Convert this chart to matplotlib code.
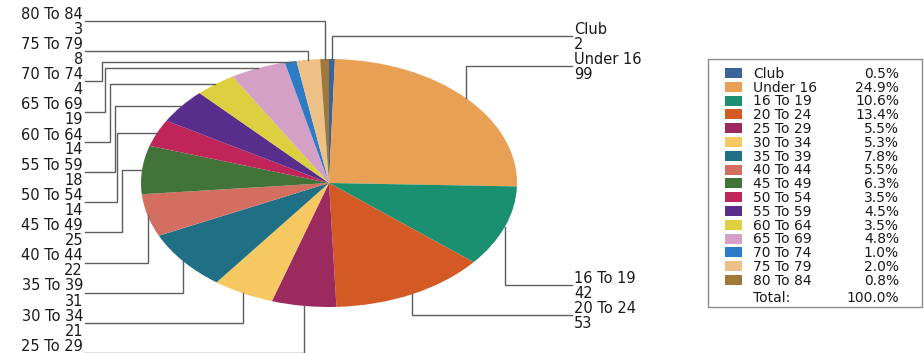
import matplotlib
matplotlib.use('Agg')
import matplotlib.pyplot as plt
import numpy as np
from matplotlib.patches import Rectangle

categories = ['Club', 'Under 16', '16 To 19', '20 To 24', '25 To 29', '30 To 34',
              '35 To 39', '40 To 44', '45 To 49', '50 To 54', '55 To 59', '60 To 64',
              '65 To 69', '70 To 74', '75 To 79', '80 To 84']
values = [2, 99, 42, 53, 22, 21, 31, 22, 25, 14, 18, 14, 19, 4, 8, 3]
colors = ['#3A6498', '#E8A055', '#1A9070', '#D45A25', '#9B2A5E', '#F5C862',
          '#1F6F85', '#D46E60', '#427338', '#C0255A', '#582D8C', '#DCD040',
          '#D4A0C5', '#2D7BC4', '#EDC088', '#A07838']

W, H = 924, 353
fig = plt.figure(figsize=(W / 100, H / 100), dpi=100)
fig.patch.set_facecolor('white')

# pie (stretched ellipse)
cx, cy, rx, ry = 329, 183, 188, 124
pax = fig.add_axes([(cx - rx) / W, (H - (cy + ry)) / H, 2 * rx / W, 2 * ry / H])
wedges, _ = pax.pie(values, colors=colors, startangle=90, counterclock=False,
                    wedgeprops=dict(linewidth=0))
pax.set_aspect('auto')
pax.set_xlim(-1, 1)
pax.set_ylim(-1, 1)
pax.axis('off')

ov = fig.add_axes([0, 0, 1, 1], zorder=5)
ov.set_xlim(0, W)
ov.set_ylim(H, 0)
ov.axis('off')
ov.patch.set_visible(False)

txt_color = '#1a1a1a'
line_color = '#5e5e5e'
FS = 10.5
CAP = 5.2  # half cap height in px for baseline positioning


def edge_point(w):
    th = np.deg2rad((w.theta1 + w.theta2) / 2)
    disp = pax.transData.transform((np.cos(th), np.sin(th)))
    return ov.transData.inverted().transform(disp)


def put(x, yc, s, ha):
    ov.text(x, yc + CAP, s, ha=ha, va='baseline', fontsize=FS, color=txt_color,
            family='DejaVu Sans')


# left labels: 80 To 84 at top down to 25 To 29
left_idx = list(range(15, 3, -1))
elbow = {13: 102, 12: 105, 11: 110, 10: 115, 9: 117, 8: 122}
for k, i in enumerate(left_idx):
    yn = 13.5 + 30.2 * k
    put(83, yn, categories[i], 'right')
    if yn + 15 < H - 6:
        put(83, yn + 15, str(values[i]), 'right')
    ly = yn + 7.5
    ex, ey = edge_point(wedges[i])
    if i in elbow:
        xs = [85, elbow[i], elbow[i], ex]
        ys = [ly, ly, ey, ey]
    else:
        xs = [85, ex, ex]
        ys = [ly, ly, ey]
    ov.plot(xs, ys, color=line_color, lw=1.0, solid_joinstyle='miter')

# right labels
right_pos = {0: 29, 1: 59, 2: 278, 3: 308}
for i, yn in right_pos.items():
    put(574, yn, categories[i], 'left')
    put(574, yn + 14.5, str(values[i]), 'left')
    ly = yn + 7.3
    ex, ey = edge_point(wedges[i])
    ov.plot([572, ex, ex], [ly, ly, ey], color=line_color, lw=1.0,
            solid_joinstyle='miter')

# legend
ov.add_patch(Rectangle((708, 59), 214, 248, fill=False, edgecolor='#8a8a8a', lw=1.0))
total = sum(values)
LFS = 10
for j, (c, v, col) in enumerate(zip(categories, values, colors)):
    yc = 73 + 13.8 * j
    ov.add_patch(Rectangle((725, yc - 5), 17, 10, facecolor=col, edgecolor='none'))
    ov.text(753, yc + 4.8, c, ha='left', va='baseline', fontsize=LFS, color=txt_color)
    ov.text(899, yc + 4.8, f'{100 * v / total:.1f}%', ha='right', va='baseline',
            fontsize=LFS, color=txt_color)
yc = 297
ov.text(753, yc + 4.8, 'Total:', ha='left', va='baseline', fontsize=LFS, color=txt_color)
ov.text(899, yc + 4.8, f'{100 * total / total:.1f}%', ha='right', va='baseline',
        fontsize=LFS, color=txt_color)

fig.savefig('out.png', dpi=100)
